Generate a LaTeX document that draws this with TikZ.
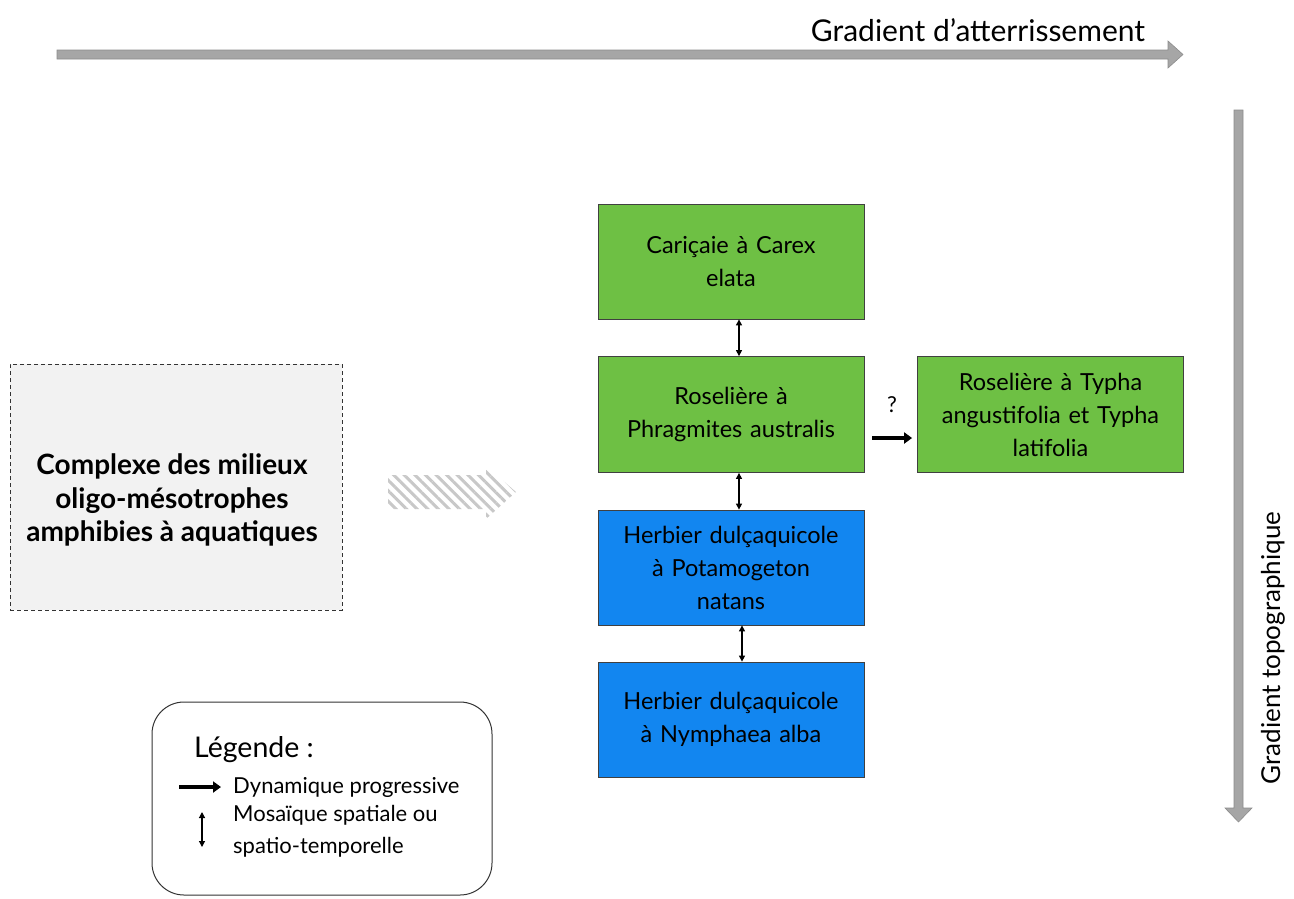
\documentclass[tikz,border=0pt]{standalone}
\usepackage{fontspec}
\setmainfont{Lato}
\usetikzlibrary{arrows.meta,patterns.meta}
\definecolor{vgreen}{RGB}{110,192,68}
\definecolor{vblue}{RGB}{18,134,240}
\definecolor{arrgray}{RGB}{166,166,166}
\definecolor{arredge}{RGB}{140,140,140}
\definecolor{panel}{RGB}{242,242,242}
\definecolor{hatch}{RGB}{200,200,200}
\begin{document}
\begin{tikzpicture}[x=1pt,y=-1pt,
  habitat/.style={draw=black!75, line width=0.8pt, minimum width=266pt,
    text width=262pt, align=center, inner sep=0pt,
    font=\fontsize{23.5}{33}\selectfont},
  gbox/.style={habitat, fill=vgreen},
  bbox/.style={habitat, fill=vblue},
  mosaic/.style={{Triangle[length=6pt,width=6pt]}-{Triangle[length=6pt,width=6pt]}, line width=1.2pt},
  progress/.style={-{Triangle[length=8pt,width=11pt]}, line width=4pt},
  gradient/.style={fill=arrgray, draw=arredge, line width=0.6pt},
  legtext/.style={anchor=west, align=left, font=\fontsize{22}{32}\selectfont, inner sep=0pt}
]
\useasboundingbox (0,0) rectangle (1294,898);

% gradient arrows
\draw[gradient] (57,50) -- (1168,50) -- (1168,41) -- (1183,54.5) -- (1168,68) -- (1168,59) -- (57,59) -- cycle;
\node[font=\fontsize{30}{34}\selectfont] (landward) at (978,30) {Gradient d’atterrissement};
\draw[gradient] (1234,110) -- (1243,110) -- (1243,808) -- (1252,808) -- (1238.5,822) -- (1225,808) -- (1234,808) -- cycle;
\node[font=\fontsize{26}{30}\selectfont, rotate=90] (topo) at (1273,648) {Gradient topographique};

% source complex
\node[draw=black!80, dashed, dash pattern=on 4pt off 3pt, line width=0.8pt, fill=panel,
      minimum width=332pt, minimum height=246pt] (complex) at (176,487) {};
\node[align=center, font=\fontsize{28}{33.5}\selectfont\bfseries] (complextxt) at (172,500)
  {Complexe des milieux\\oligo-mésotrophes\\amphibies à aquatiques};

% hatched transition arrow
\fill[pattern={Lines[angle=-45,distance=7.5pt,line width=3pt]}, pattern color=hatch]
  (388,475) -- (486,475) -- (486,466) -- (516,492) -- (486,519) -- (486,509) -- (388,509) -- cycle;

% habitats
\node[gbox, minimum height=115pt] (carex) at (731,261.5) {Cariçaie à Carex\\elata};
\node[gbox, minimum height=116pt] (phrag) at (731,414.5) {Roselière à\\Phragmites australis};
\node[bbox, minimum height=115pt] (pota) at (731,567.5) {Herbier dulçaquicole\\à Potamogeton\\natans};
\node[bbox, minimum height=115pt] (nymph) at (731,719.5) {Herbier dulçaquicole\\à Nymphaea alba};
\node[gbox, minimum height=116pt] (typha) at (1050.5,414.5) {Roselière à Typha\\angustifolia et Typha\\latifolia};

% relations
\draw[mosaic] ([xshift=8pt]carex.south) -- ([xshift=8pt]phrag.north);
\draw[mosaic] ([xshift=8pt]phrag.south) -- ([xshift=8pt]pota.north);
\draw[mosaic] ([xshift=11pt]pota.south) -- ([xshift=11pt]nymph.north);
\draw[progress] ([xshift=8pt,yshift=-23.5pt]phrag.east) -- ([xshift=-5pt,yshift=-23.5pt]typha.west);
\node[font=\fontsize{22}{24}\selectfont] (doubt) at (892,405) {?};

% legend
\node[draw=black!80, line width=1pt, rounded corners=32pt, minimum width=340pt, minimum height=193pt] (legend) at (322,798.5) {};
\node[anchor=west, inner sep=0pt, font=\fontsize{28.5}{32}\selectfont] (legtitle) at (194,750) {Légende :};
\coordinate (progA) at (179,787);
\coordinate (progB) at (221,787);
\draw[progress] (progA) -- (progB);
\node[legtext] (legprog) at (233,787) {Dynamique progressive};
\coordinate (mosA) at (202,812);
\coordinate (mosB) at (202,847);
\draw[mosaic] (mosA) -- (mosB);
\node[legtext] (legmos) at (233,831) {Mosaïque spatiale ou\\spatio-temporelle};
\end{tikzpicture}
\end{document}
